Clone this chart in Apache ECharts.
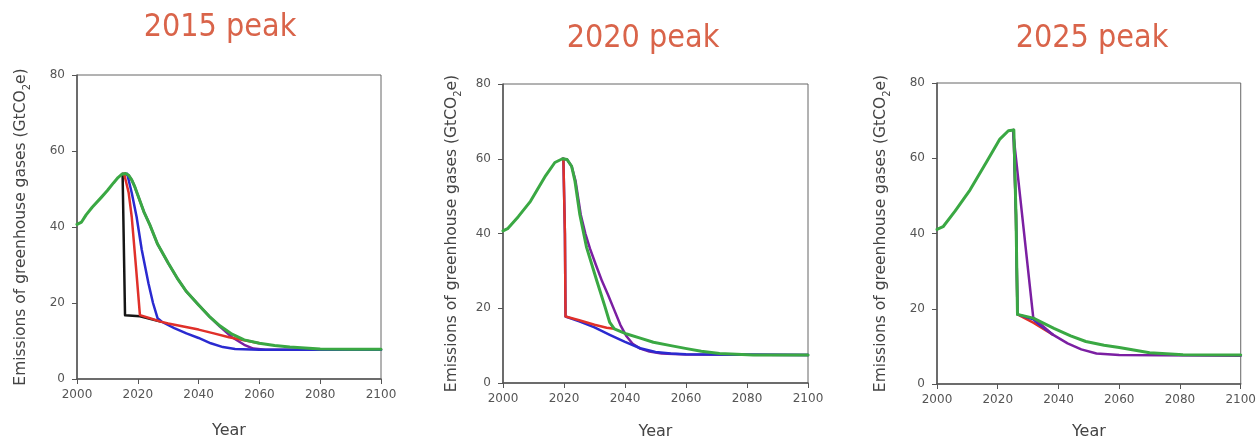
<!DOCTYPE html>
<html>
<head>
<meta charset="utf-8">
<script src="https://cdn.jsdelivr.net/npm/echarts@6/dist/echarts.min.js"></script>
<style>
html,body{margin:0;padding:0;background:#fff;}
#c{width:1259px;height:445px;}
</style>
</head>
<body>
<div id="c"></div>
<script>
// Titles
const titles = ['2015 peak', '2020 peak', '2025 peak'];
const xTicks = [2000, 2020, 2040, 2060, 2080, 2100];
const yTicks = [0, 20, 40, 60, 80];

// Panel 1: 2015 peak  [year, GtCO2e]
const p1Green = [[2000,40.7],[2001.5,41.3],[2003,43.2],[2005,45.2],[2008,47.8],[2010,49.6],[2012,51.6],[2013.5,53],[2014.8,53.9],[2016,54.1],[2017,53.6],[2018,52.4],[2019,50.6],[2020,48.4],[2022,44],[2024,40.5],[2026.5,35.5],[2030,30.5],[2033,26.5],[2036,23],[2040,19.5],[2043.5,16.5],[2047,14],[2051,11.8],[2055,10.3],[2060,9.4],[2065,8.8],[2070,8.4],[2080,7.9],[2090,7.8],[2100,7.8]];
const p1Purple = [[2015.5,54],[2016,54.1],[2017,53.6],[2018,52.4],[2019,50.6],[2020,48.4],[2022,44],[2024,40.5],[2026.5,35.5],[2030,30.5],[2033,26.5],[2036,23],[2040,19.5],[2043.5,16.5],[2047,13.8],[2051,11],[2055,9],[2058,8],[2062,7.7],[2100,7.7]];
const p1Black = [[2015,54],[2015.8,16.8],[2020.7,16.5],[2027.5,15.1]];
const p1Red = [[2015.5,54],[2017,49],[2018,42.7],[2019.4,29.5],[2020.7,16.8],[2024,16],[2027.5,15.1],[2030,14.6],[2035,13.8],[2040,13],[2045,12],[2050,11],[2055,10.2],[2060,9.4]];
const p1Blue = [[2016.5,54],[2018,49],[2019.6,42.7],[2021.3,34],[2023.5,25.2],[2025,20],[2026.5,16],[2028,15],[2032,13.4],[2036,12],[2040,10.8],[2044,9.4],[2048,8.4],[2052,7.9],[2060,7.7],[2100,7.7]];

// Panel 2: 2020 peak
const p2Green = [[2000,40.7],[2001.5,41.3],[2005,44.5],[2009,48.6],[2014,55.5],[2017,59],[2019.5,60],[2021,59.8],[2022.5,58],[2023.6,54],[2025.2,45],[2027.4,36.3],[2030.7,27.5],[2033.4,20.5],[2035,16.2],[2036.5,14.5],[2040.6,13.1],[2045,12],[2049.3,10.9],[2055,10],[2060.2,9.2],[2065,8.5],[2071,7.9],[2082,7.5],[2100,7.5]];
const p2Purple = [[2019.5,60],[2021,59.8],[2022.5,58],[2023.8,54],[2025.5,45],[2027,40],[2028.5,36],[2030.5,31.5],[2032.5,27.2],[2034.5,23.5],[2036.5,19.5],[2038.5,15.5],[2040.5,12.5],[2042.5,10.5],[2045,9.2],[2048,8.4],[2052,7.9],[2060,7.6],[2100,7.5]];
const p2Red = [[2019.8,60],[2020.3,40],[2020.5,17.8],[2025,16.8],[2030,15.6],[2034,14.8],[2036.5,14.5]];
const p2Blue = [[2019.8,60],[2020.3,40],[2020.5,17.8],[2025,16.5],[2030,14.9],[2035,12.9],[2040,11],[2045,9.3],[2050,8.3],[2055,7.9],[2060,7.7],[2100,7.5]];

// Panel 3: 2025 peak
const p3Green = [[2000,41.1],[2002,41.8],[2006,46],[2010.9,51.6],[2016.3,59],[2020.7,65.1],[2023.5,67.3],[2025.3,67.5],[2026,45],[2026.5,18.5],[2031.7,17.5],[2038.5,14.8],[2044,12.8],[2049,11.3],[2055,10.3],[2060,9.7],[2070,8.3],[2081,7.8],[2100,7.7]];
const p3Purple = [[2025,67.5],[2031.7,17.6],[2038,13.2],[2043,10.8],[2047.5,9.2],[2052.5,8.1],[2060,7.7],[2100,7.5]];
const p3Red = [[2025.2,67.5],[2026,45],[2026.5,18.5],[2031.7,16.3],[2038,13.2]];
const p3Blue = [[2025.2,67.5],[2026,45],[2026.5,18.5],[2031.7,17.2],[2034,15.6],[2038,13.2]];

const C = {green:'#3aa843', black:'#151515', red:'#e0302a', blue:'#2a2ad0', purple:'#7b1fa2'};

const grids = [
  {left:77, top:75, width:304, height:304},
  {left:503, top:84, width:305, height:304},
  {left:937, top:83, width:304, height:306}
];
const yNameGap = [48, 43, 48];
const xNameGap = [44, 41, 40];
const titlePos = [[220,28],[643,39],[1092,39]];

function line(gi, data, color, w, z){
  return {type:'line', xAxisIndex:gi, yAxisIndex:gi, data:data, showSymbol:false, symbol:'none',
    lineStyle:{color:color, width:w, join:'round', cap:'round'}, z:z, animation:false, silent:true};
}

const series = [
  line(0,p1Black,C.black,2.5,2), line(0,p1Purple,C.purple,2.5,3), line(0,p1Blue,C.blue,2.5,4), line(0,p1Red,C.red,2.5,5), line(0,p1Green,C.green,3,6),
  line(1,p2Purple,C.purple,2.5,3), line(1,p2Blue,C.blue,2.5,4), line(1,p2Red,C.red,2.5,5), line(1,p2Green,C.green,3,6),
  line(2,p3Red,C.red,2.5,3), line(2,p3Blue,C.blue,2.5,4), line(2,p3Purple,C.purple,2.5,5), line(2,p3Green,C.green,3,6)
];

const xAxes = grids.map((g,i)=>({
  gridIndex:i, type:'value', min:xTicks[0], max:xTicks[xTicks.length-1], interval:xTicks[1]-xTicks[0],
  name:'Year', nameLocation:'middle', nameGap:xNameGap[i],
  nameTextStyle:{fontFamily:'DejaVu Sans', fontSize:16, color:'#444'},
  axisLine:{show:true, lineStyle:{color:'#555', width:1.5}},
  axisTick:{show:true, length:5, inside:false, lineStyle:{color:'#555'}},
  axisLabel:{fontFamily:'DejaVu Sans', fontSize:12, color:'#555', margin:10, showMaxLabel:true, showMinLabel:true,
    formatter:function(v){return String(v);}},
  splitLine:{show:false}
}));
const yAxes = grids.map((g,i)=>({
  gridIndex:i, type:'value', min:yTicks[0], max:yTicks[yTicks.length-1], interval:yTicks[1]-yTicks[0],
  name:'{a|Emissions of greenhouse gases (GtCO}{s|2}{a|e)}', nameLocation:'middle', nameGap:yNameGap[i],
  nameTextStyle:{rich:{
    a:{fontFamily:'DejaVu Sans', fontSize:15.5, color:'#444', lineHeight:18, verticalAlign:'bottom'},
    s:{fontFamily:'DejaVu Sans', fontSize:10, color:'#444', lineHeight:18, verticalAlign:'bottom', padding:[0,0,-3,0]}
  }},
  axisLine:{show:true, lineStyle:{color:'#555', width:1.5}},
  axisTick:{show:true, length:5, inside:false, lineStyle:{color:'#555'}},
  axisLabel:{fontFamily:'DejaVu Sans', fontSize:12, color:'#555', margin:12, formatter:function(v){return String(v);}},
  splitLine:{show:false}
}));

const graphic = titles.map((t,i)=>({
  type:'text', x:titlePos[i][0], y:titlePos[i][1],
  style:{text:t, fill:'#d9644a', font:'32px "DejaVu Sans Condensed", "DejaVu Sans", sans-serif', align:'center', verticalAlign:'middle'}
}));

const chart = echarts.init(document.getElementById('c'), null, {renderer:'canvas'});
chart.setOption({
  animation:false,
  backgroundColor:'#ffffff',
  grid: grids.map(g=>Object.assign({show:true, borderColor:'#666', borderWidth:1, containLabel:false}, g)),
  xAxis:xAxes, yAxis:yAxes, series:series, graphic:graphic
});
</script>
</body>
</html>
